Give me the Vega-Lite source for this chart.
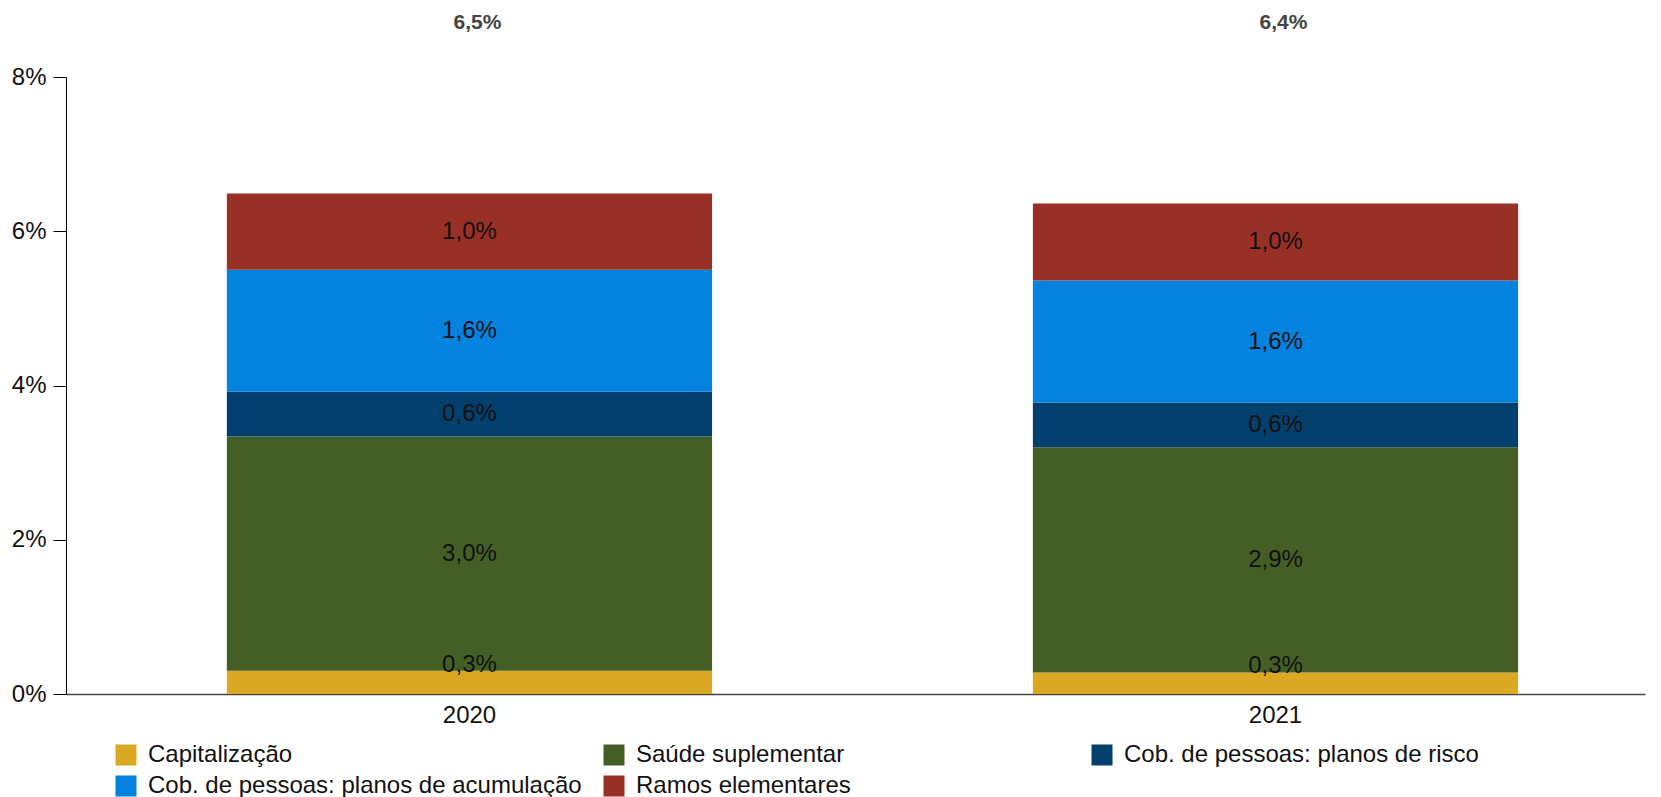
{
  "$schema": "https://vega.github.io/schema/vega-lite/v6.json",
  "autosize": {"type": "none"},
  "width": 1579,
  "height": 617,
  "padding": {"left": 66, "top": 77, "right": 16, "bottom": 103},
  "background": "white",
  "config": {
    "locale": {"number": {"decimal": ",", "thousands": ".", "grouping": [3], "currency": ["R$", ""]}},
    "view": {"stroke": null},
    "font": "Liberation Sans"
  },
  "data": {
    "values": [
      {"ano": "2020", "categoria": "Capitalização", "ord": 1, "valor": 0.0030},
      {"ano": "2020", "categoria": "Saúde suplementar", "ord": 2, "valor": 0.0304},
      {"ano": "2020", "categoria": "Cob. de pessoas: planos de risco", "ord": 3, "valor": 0.0058},
      {"ano": "2020", "categoria": "Cob. de pessoas: planos de acumulação", "ord": 4, "valor": 0.0158},
      {"ano": "2020", "categoria": "Ramos elementares", "ord": 5, "valor": 0.0099},
      {"ano": "2021", "categoria": "Capitalização", "ord": 1, "valor": 0.0028},
      {"ano": "2021", "categoria": "Saúde suplementar", "ord": 2, "valor": 0.0292},
      {"ano": "2021", "categoria": "Cob. de pessoas: planos de risco", "ord": 3, "valor": 0.0058},
      {"ano": "2021", "categoria": "Cob. de pessoas: planos de acumulação", "ord": 4, "valor": 0.0158},
      {"ano": "2021", "categoria": "Ramos elementares", "ord": 5, "valor": 0.0100}
    ]
  },
  "transform": [
    {"stack": "valor", "groupby": ["ano"], "sort": [{"field": "ord", "order": "ascending"}], "as": ["v0", "v1"]},
    {"calculate": "(datum.v0 + datum.v1) / 2", "as": "meio"}
  ],
  "encoding": {
    "x": {
      "field": "ano", "type": "nominal",
      "scale": {"paddingInner": 0.398, "paddingOuter": 0.1785, "align": 0.559},
      "axis": {
        "title": null, "labelAngle": 0, "ticks": false,
        "domainColor": "#444444", "domainWidth": 1.5,
        "labelFontSize": 24, "labelColor": "#111111", "labelPadding": 9,
        "labelFont": "Liberation Sans"
      }
    }
  },
  "layer": [
    {
      "mark": {"type": "bar"},
      "encoding": {
        "y": {
          "field": "v1", "type": "quantitative",
          "scale": {"domain": [0, 0.08], "nice": false},
          "axis": {
            "title": null, "format": ".0%", "values": [0, 0.02, 0.04, 0.06, 0.08],
            "grid": false, "domainColor": "#000000", "domainWidth": 1,
            "tickColor": "#000000", "tickSize": 13, "labelPadding": 7,
            "labelFontSize": 24, "labelColor": "#111111", "labelFont": "Liberation Sans"
          }
        },
        "y2": {"field": "v0"},
        "color": {
          "field": "categoria", "type": "nominal",
          "scale": {
            "domain": ["Capitalização", "Saúde suplementar", "Cob. de pessoas: planos de risco", "Cob. de pessoas: planos de acumulação", "Ramos elementares"],
            "range": ["#DBA823", "#445F25", "#03406E", "#0382DE", "#993025"]
          },
          "legend": {
            "title": null, "orient": "none", "legendX": 48, "legendY": 666,
            "direction": "horizontal", "columns": 3, "gridAlign": "all",
            "columnPadding": 20, "rowPadding": 7, "padding": 0,
            "symbolType": "square", "symbolSize": 441, "symbolStrokeWidth": 0,
            "labelFontSize": 24, "labelColor": "#111111", "labelOffset": 10,
            "labelFont": "Liberation Sans", "labelLimit": 600
          }
        }
      }
    },
    {
      "transform": [{"filter": "datum.categoria !== 'Capitalização'"}],
      "mark": {"type": "text", "fontSize": 24, "color": "#111111", "baseline": "middle", "align": "center"},
      "encoding": {
        "y": {"field": "meio", "type": "quantitative"},
        "text": {"field": "valor", "type": "quantitative", "format": ".1%"}
      }
    },
    {
      "transform": [{"filter": "datum.categoria === 'Capitalização'"}],
      "mark": {"type": "text", "fontSize": 24, "color": "#111111", "baseline": "alphabetic", "align": "center", "dy": 1},
      "encoding": {
        "y": {"field": "v1", "type": "quantitative"},
        "text": {"field": "valor", "type": "quantitative", "format": ".1%"}
      }
    },
    {
      "transform": [{"aggregate": [{"op": "sum", "field": "valor", "as": "total"}], "groupby": ["ano"]}],
      "mark": {"type": "text", "fontSize": 21, "fontWeight": "bold", "color": "#444444", "baseline": "middle", "align": "center", "dx": 8},
      "encoding": {
        "y": {"datum": 0.087, "type": "quantitative"},
        "text": {"field": "total", "type": "quantitative", "format": ".1%"}
      }
    }
  ]
}
